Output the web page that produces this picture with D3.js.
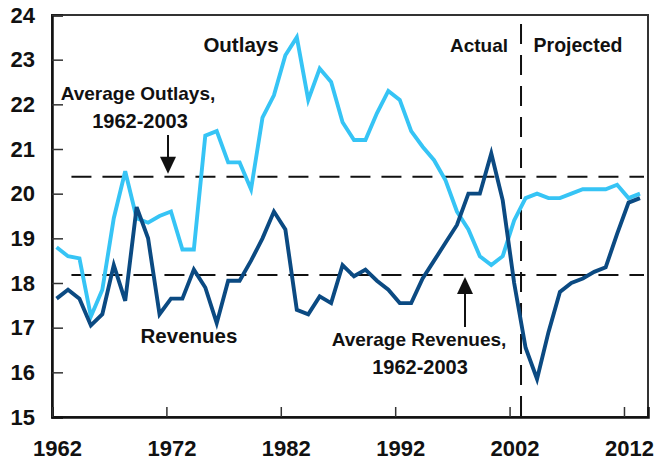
<!DOCTYPE html>
<html>
<head>
<meta charset="utf-8">
<script src="https://cdn.jsdelivr.net/npm/d3@7"></script>
<style>
  body { margin: 0; background: #fff; }
  svg text { font-family: "Liberation Sans", Arial, sans-serif; font-weight: bold; fill: #111; }
</style>
</head>
<body>
<svg id="chart" width="658" height="461"></svg>
<script>
// fiscal years, share of GDP
const years = d3.range(1962, 2014);
const outlays = [18.8, 18.6, 18.55, 17.25, 17.85, 19.45, 20.5, 19.45, 19.35, 19.5, 19.6, 18.75, 18.75,
  21.3, 21.4, 20.7, 20.7, 20.1, 21.7, 22.2, 23.1, 23.5, 22.1, 22.8, 22.5, 21.6, 21.2, 21.2, 21.8,
  22.3, 22.1, 21.4, 21.05, 20.75, 20.3, 19.6, 19.2, 18.6, 18.4, 18.6, 19.4, 19.9, 20.0, 19.9, 19.9,
  20.0, 20.1, 20.1, 20.1, 20.2, 19.9, 20.0];
const revenues = [17.65, 17.85, 17.65, 17.05, 17.3, 18.4, 17.6, 19.7, 19.0, 17.3, 17.65, 17.65, 18.3,
  17.9, 17.1, 18.05, 18.05, 18.5, 19.0, 19.6, 19.2, 17.4, 17.3, 17.7, 17.55, 18.4, 18.15, 18.3, 18.05,
  17.85, 17.55, 17.55, 18.1, 18.5, 18.9, 19.3, 20.0, 20.0, 20.9, 19.85, 18.0, 16.55, 15.85, 16.9,
  17.8, 18.0, 18.1, 18.25, 18.35, 19.1, 19.8, 19.9];
const avgOutlays = 20.38;
const avgRevenues = 18.18;
const projectionStart = 2003;
const xTicks = [1962, 1972, 1982, 1992, 2002, 2012];
const yTicks = [15, 16, 17, 18, 19, 20, 21, 22, 23, 24];

const LIGHT = "#36c4f5";
const DARK = "#0b4a82";
const MID = 0.4; // points sit mid-year

var svg = d3.select("#chart");
var x = d3.scaleLinear().domain([1962, 2014.1]).range([52, 648]);
var y = d3.scaleLinear().domain([15, 24]).range([417, 15]);

// frame
svg.append("rect")
  .attr("x", x.range()[0]).attr("y", y.range()[1])
  .attr("width", x.range()[1] - x.range()[0]).attr("height", y.range()[0] - y.range()[1])
  .attr("fill", "none").attr("stroke", "#333").attr("stroke-width", 2);

// y axis
var yAxis = svg.append("g")
  .attr("transform", `translate(${x.range()[0]},0)`)
  .call(d3.axisLeft(y).tickValues(yTicks).tickSize(-11).tickPadding(17).tickFormat(d3.format("d")));
yAxis.select(".domain").attr("stroke", "#111").attr("stroke-width", 2.5);
yAxis.selectAll(".tick line").attr("stroke", "#333").attr("stroke-width", 1.5);
yAxis.selectAll("text").attr("font-size", 22).attr("fill", "#111")
  .attr("font-family", "Liberation Sans, Arial, sans-serif").attr("font-weight", "bold");

// x axis
var xAxis = svg.append("g")
  .attr("transform", `translate(0,${y.range()[0]})`)
  .call(d3.axisBottom(x).tickValues(xTicks).tickSize(-10).tickPadding(0).tickFormat(d3.format("d")));
xAxis.select(".domain").attr("stroke", "#111").attr("stroke-width", 2.5);
xAxis.selectAll(".tick line").attr("stroke", "#333").attr("stroke-width", 1.5);
xAxis.selectAll("text")
  .attr("font-size", 22).attr("fill", "#111")
  .attr("font-family", "Liberation Sans, Arial, sans-serif").attr("font-weight", "bold")
  .attr("x", 5).attr("y", 23).attr("dy", "0.71em");

// dashed reference lines
var dash = "20 11";
[avgOutlays, avgRevenues].forEach(v => {
  svg.append("line")
    .attr("x1", x(1963.7)).attr("x2", x.range()[1] - 4)
    .attr("y1", y(v)).attr("y2", y(v))
    .attr("stroke", "#111").attr("stroke-width", 2).attr("stroke-dasharray", dash);
});
svg.append("line")
  .attr("x1", x(projectionStart)).attr("x2", x(projectionStart))
  .attr("y1", y(23.8)).attr("y2", y.range()[0])
  .attr("stroke", "#111").attr("stroke-width", 2).attr("stroke-dasharray", dash);

// series
var line = d3.line().x((d, i) => x(years[i] + MID)).y(d => y(d));
svg.append("path").datum(outlays)
  .attr("d", line).attr("fill", "none").attr("stroke", LIGHT)
  .attr("stroke-width", 3.9).attr("stroke-linejoin", "miter");
svg.append("path").datum(revenues)
  .attr("d", line).attr("fill", "none").attr("stroke", DARK)
  .attr("stroke-width", 3.9).attr("stroke-linejoin", "miter");

// labels
var label = (tx, ty, txt, size) => svg.append("text")
  .attr("x", tx).attr("y", ty).attr("text-anchor", "middle")
  .attr("font-size", size || 20).text(txt);

label(241, 52, "Outlays", 20.5);
label(189, 343, "Revenues", 20.5);
label(138, 100, "Average Outlays,", 19);
label(140, 128, "1962-2003", 20);
label(419, 346, "Average Revenues,", 19);
label(420, 374, "1962-2003", 20);
label(479, 52, "Actual", 19);
label(578, 52, "Projected", 19.5);

// arrows
var arrow = (ax, tipY, tailY) => {
  var dir = tailY < tipY ? -1 : 1;
  svg.append("line")
    .attr("x1", ax).attr("x2", ax).attr("y1", tailY).attr("y2", tipY + dir * 10)
    .attr("stroke", "#111").attr("stroke-width", 2);
  svg.append("path")
    .attr("d", `M${ax},${tipY} L${ax - 8},${tipY + dir * 17} L${ax + 8},${tipY + dir * 17} Z`)
    .attr("fill", "#111");
};
arrow(168, y(avgOutlays) - 3, 135);
arrow(465, y(avgRevenues) + 2, 327);
</script>
</body>
</html>
